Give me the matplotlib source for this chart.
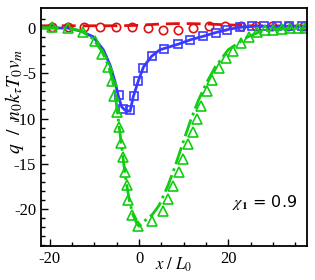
import matplotlib
matplotlib.use("Agg")
import matplotlib.pyplot as plt

# green: triangles + dash-dot curve
tri_x = [-19.5, -16.0, -12.6, -9.9, -8.2, -7.0, -6.0, -5.6, -4.9, -4.5, -4.0, -3.6, -3.1,
         -2.7, -2.4, -1.6, -0.2, 2.9, 5.4, 6.5, 7.6, 9.0, 9.9, 11.0, 12.1, 13.0, 14.0,
         15.3, 16.4, 18.0, 19.6, 21.0, 22.9, 24.7, 26.5, 28.3, 30.1, 32.1, 33.9, 35.7, 37.3]
tri_y = [0.1, 0.0, -0.4, -1.4, -2.85, -4.35, -5.8, -7.55, -9.3, -10.9, -12.7, -14.2, -15.9,
         -17.3, -19.0, -20.7, -21.9, -21.3, -20.2, -18.9, -17.5, -15.9, -14.5, -12.8, -11.5, -10.0, -8.6,
         -7.0, -5.7, -4.4, -3.3, -2.5, -1.6, -1.0, -0.45, -0.2, -0.2, -0.1, 0.0, 0.0, 0.0]
gline_x = [-22, -16, -13, -10.3, -8.3, -7.0, -6.0, -5.3, -4.8, -4.3, -3.8, -3.3, -2.8, -2.2,
           -1.4, -0.5, 0.0, 1.5, 3.0, 4.5, 6.5, 8.0, 9.9, 11.5, 13.3, 15.2, 17.1, 20.0, 24.3,
           27.2, 30.0, 37.7]
gline_y = [0.05, 0.0, -0.3, -1.2, -2.6, -4.0, -5.6, -7.5, -9.5, -11.5, -13.5, -15.5, -17.2, -19.0,
           -20.6, -21.6, -21.9, -21.2, -20.6, -19.6, -17.4, -15.4, -12.6, -10.3, -8.0, -6.0, -4.3,
           -2.4, -1.0, -0.4, -0.15, 0.0]

# blue: squares + solid curve
sq_x = [-4.6, -3.7, -2.0, -1.1, -0.2, 0.8, 2.8, 5.7, 8.7, 11.5, 14.3, 17.2, 19.8, 22.6,
        25.3, 28.1, 30.9, 33.7, 36.5]
sq_y = [-7.4, -8.9, -9.1, -7.5, -5.9, -4.4, -3.1, -2.3, -1.8, -1.3, -0.85, -0.5, -0.2, 0.1,
        0.2, 0.2, 0.2, 0.2, 0.2]
bline_x = [-22, -16, -13, -10.3, -8.0, -6.5, -5.4, -4.6, -3.9, -3.1, -2.0, -1.3, -0.2, 1.0,
           2.85, 4.7, 8.7, 11.5, 14.5, 17.2, 20.0, 23.0, 26.0, 37.7]
bline_y = [0.0, 0.0, -0.35, -0.96, -2.4, -4.1, -5.9, -7.6, -8.7, -9.1, -9.2, -7.6, -5.9, -4.3,
           -3.1, -2.4, -1.8, -1.3, -0.9, -0.5, -0.15, 0.1, 0.2, 0.2]

# red: circles + dashed curve
circ_x = [-19.5, -16.0, -12.4, -8.8, -5.2, -1.6, 2.0, 5.4, 8.8, 12.1, 15.7, 19.3, 22.9,
          26.3, 29.9, 33.3, 36.9]
circ_y = [0.15, 0.15, 0.15, 0.15, 0.15, 0.15, 0.0, -0.25, -0.2, 0.05, 0.2, 0.2, 0.2,
          0.2, 0.2, 0.2, 0.2]
rline_x = [-22, -5, 0, 5, 10, 15, 20, 25, 37.7]
rline_y = [0.25, 0.25, 0.3, 0.45, 0.5, 0.45, 0.35, 0.25, 0.2]

plt.rcParams['font.family'] = 'Liberation Serif'
plt.rcParams['mathtext.fontset'] = 'stix'
plt.rcParams['axes.unicode_minus'] = False

red, blue, green = '#e01010', '#3a3aff', '#11cc11'

fig = plt.figure(figsize=(3.15, 2.80), dpi=100)
ax = fig.add_axes([0.130, 0.121, 0.845, 0.850])

ax.plot(rline_x, rline_y, '--', color=red, lw=2, dashes=(5, 2.5))
ax.plot(circ_x, circ_y, 'o', color=red, mfc='none', ms=6, mew=1.2)
ax.plot(bline_x, bline_y, '-', color=blue, lw=2)
ax.plot(sq_x, sq_y, 's', color=blue, mfc='none', ms=5.5, mew=1.2)
ax.plot(gline_x, gline_y, '-.', color=green, lw=2)
ax.plot(tri_x, tri_y, '^', color=green, mfc='none', ms=6.5, mew=1.2)

ax.set_xlim(-22, 37.7)
ax.set_ylim(-24.1, 2.2)
ax.set_xticks([-20, 0, 20])
ax.set_yticks([0, -5, -10, -15, -20])
ax.set_xticks(range(-20, 36, 5), minor=True)
ax.set_yticks(range(-24, 2), minor=True)
ax.tick_params(which='both', direction='in', labelsize=12, width=1)
ax.tick_params(which='major', length=5)
ax.tick_params(which='minor', length=3)
for s in ax.spines.values():
    s.set_linewidth(1.3)

ax.set_xlabel(r'$x\ /\ L_0$', fontsize=12)
ax.xaxis.set_label_coords(0.5, -0.04)
ax.set_ylabel(r'$q\ \ /\ \ n_0k_\tau T_0v_m$', fontsize=14)
ax.yaxis.set_label_coords(-0.055, 0.61)

ax.text(20.9, -19.8, r'$\chi_\mathbf{1}$ = 0.9', fontsize=11.5, va='baseline',
        family='DejaVu Sans')

fig.savefig('out.png', dpi=100)
